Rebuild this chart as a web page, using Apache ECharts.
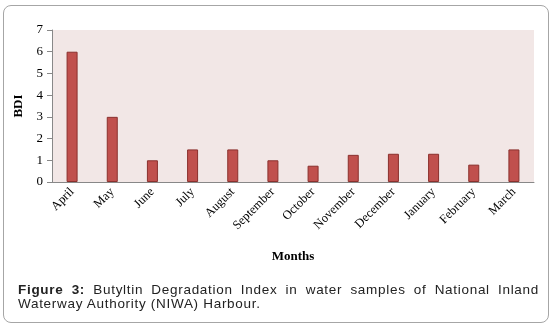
<!DOCTYPE html>
<html>
<head>
<meta charset="utf-8">
<script src="https://cdn.jsdelivr.net/npm/echarts@6/dist/echarts.min.js"></script>
<style>
  body { margin: 0; background: #fff; }
  #wrap { position: relative; width: 556px; height: 330px; }
  #box {
    position: absolute; left: 3px; top: 5px; width: 544px; height: 316px;
    border: 1px solid #a6a6a6; border-radius: 8px;
  }
  #main { position: absolute; left: 0; top: 0; width: 556px; height: 330px; }
  #caption {
    position: absolute; left: 18px; top: 283px; width: 521px;
    font-family: "Liberation Sans", Arial, sans-serif; font-size: 13.5px;
    letter-spacing: 0.7px; line-height: 14px; color: #222;
  }
  #caption .l1 { text-align: justify; text-align-last: justify; }
</style>
</head>
<body>
<div id="wrap">
  <div id="box"></div>
  <div id="main"></div>
  <div id="caption">
    <div class="l1"><b>Figure 3:</b> Butyltin Degradation Index in water samples of National Inland</div>
    <div>Waterway Authority (NIWA) Harbour.</div>
  </div>
</div>
<script>
  // 月份和BDI数值
  var months = ["April", "May", "June", "July", "August", "September", "October",
    "November", "December", "January", "February", "March"];
  var bdiValues = [6, 3, 1, 1.5, 1.5, 1, 0.75, 1.25, 1.3, 1.3, 0.8, 1.5];
  var yTicks = [0, 1, 2, 3, 4, 5, 6, 7];

  var chart = echarts.init(document.getElementById("main"));
  var serif = "Liberation Serif, Times New Roman, serif";
  var option = {
    animation: false,
    grid: {
      left: 52, right: 22, top: 30, bottom: 148,
      show: true,
      backgroundColor: "#f2e7e6",
      borderWidth: 0
    },
    xAxis: {
      type: "category",
      data: months,
      name: "Months",
      nameLocation: "middle",
      nameGap: 68,
      nameTextStyle: { fontFamily: serif, fontSize: 13, fontWeight: "bold", color: "#000" },
      axisLine: { lineStyle: { color: "#888", width: 1 } },
      axisTick: { show: false },
      axisLabel: {
        rotate: 45,
        interval: 0,
        margin: 8,
        fontFamily: serif,
        fontSize: 12.5,
        color: "#000"
      }
    },
    yAxis: {
      type: "value",
      min: yTicks[0],
      max: yTicks[yTicks.length - 1],
      interval: 1,
      name: "BDI",
      nameLocation: "middle",
      nameGap: 23,
      nameTextStyle: { fontFamily: serif, fontSize: 13, fontWeight: "bold", color: "#000" },
      axisLine: { show: true, lineStyle: { color: "#888", width: 1 } },
      axisTick: { show: true, length: 5, lineStyle: { color: "#888" } },
      splitLine: { show: false },
      axisLabel: { fontFamily: serif, fontSize: 13, color: "#000", margin: 9 }
    },
    series: [
      {
        type: "bar",
        data: bdiValues,
        barWidth: 11,
        itemStyle: { color: "#c0504d", borderColor: "#8a302d", borderWidth: 1 }
      }
    ]
  };
  chart.setOption(option);
</script>
</body>
</html>
